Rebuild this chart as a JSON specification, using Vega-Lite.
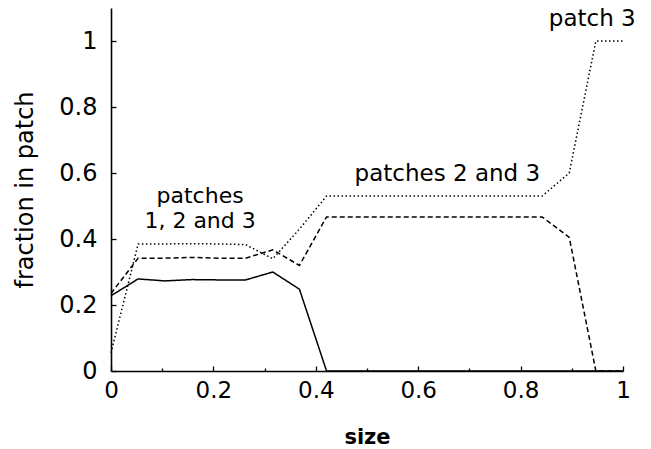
{
  "$schema": "https://vega.github.io/schema/vega-lite/v6.json",
  "width": 512,
  "height": 363,
  "autosize": "none",
  "padding": {"left": 111, "top": 8, "right": 28, "bottom": 78},
  "background": "white",
  "config": {
    "view": {"stroke": null},
    "font": "DejaVu Sans",
    "axis": {"grid": false, "domainColor": "black", "domainWidth": 1.6, "tickColor": "black", "tickWidth": 1.3, "labelColor": "black", "titleColor": "black", "labelFont": "DejaVu Sans", "titleFont": "DejaVu Sans", "labelFontSize": 23, "titleFontSize": 23}
  },
  "datasets": {
    "lines": [
      {"size": 0, "fraction": 0.228, "series": "patch 1"},
      {"size": 0.053, "fraction": 0.279, "series": "patch 1"},
      {"size": 0.105, "fraction": 0.273, "series": "patch 1"},
      {"size": 0.158, "fraction": 0.277, "series": "patch 1"},
      {"size": 0.211, "fraction": 0.276, "series": "patch 1"},
      {"size": 0.263, "fraction": 0.276, "series": "patch 1"},
      {"size": 0.316, "fraction": 0.3, "series": "patch 1"},
      {"size": 0.368, "fraction": 0.248, "series": "patch 1"},
      {"size": 0.421, "fraction": 0, "series": "patch 1"},
      {"size": 0.474, "fraction": 0, "series": "patch 1"},
      {"size": 0.526, "fraction": 0, "series": "patch 1"},
      {"size": 0.579, "fraction": 0, "series": "patch 1"},
      {"size": 0.632, "fraction": 0, "series": "patch 1"},
      {"size": 0.684, "fraction": 0, "series": "patch 1"},
      {"size": 0.737, "fraction": 0, "series": "patch 1"},
      {"size": 0.789, "fraction": 0, "series": "patch 1"},
      {"size": 0.842, "fraction": 0, "series": "patch 1"},
      {"size": 0.895, "fraction": 0, "series": "patch 1"},
      {"size": 0.947, "fraction": 0, "series": "patch 1"},
      {"size": 1, "fraction": 0, "series": "patch 1"},
      {"size": 0, "fraction": 0.235, "series": "patch 2"},
      {"size": 0.053, "fraction": 0.342, "series": "patch 2"},
      {"size": 0.105, "fraction": 0.342, "series": "patch 2"},
      {"size": 0.158, "fraction": 0.344, "series": "patch 2"},
      {"size": 0.211, "fraction": 0.342, "series": "patch 2"},
      {"size": 0.263, "fraction": 0.342, "series": "patch 2"},
      {"size": 0.316, "fraction": 0.367, "series": "patch 2"},
      {"size": 0.368, "fraction": 0.32, "series": "patch 2"},
      {"size": 0.421, "fraction": 0.467, "series": "patch 2"},
      {"size": 0.474, "fraction": 0.467, "series": "patch 2"},
      {"size": 0.526, "fraction": 0.467, "series": "patch 2"},
      {"size": 0.579, "fraction": 0.467, "series": "patch 2"},
      {"size": 0.632, "fraction": 0.467, "series": "patch 2"},
      {"size": 0.684, "fraction": 0.467, "series": "patch 2"},
      {"size": 0.737, "fraction": 0.467, "series": "patch 2"},
      {"size": 0.789, "fraction": 0.467, "series": "patch 2"},
      {"size": 0.842, "fraction": 0.467, "series": "patch 2"},
      {"size": 0.895, "fraction": 0.405, "series": "patch 2"},
      {"size": 0.947, "fraction": 0, "series": "patch 2"},
      {"size": 1, "fraction": 0, "series": "patch 2"},
      {"size": 0, "fraction": 0.055, "series": "patch 3"},
      {"size": 0.053, "fraction": 0.385, "series": "patch 3"},
      {"size": 0.105, "fraction": 0.385, "series": "patch 3"},
      {"size": 0.158, "fraction": 0.386, "series": "patch 3"},
      {"size": 0.211, "fraction": 0.385, "series": "patch 3"},
      {"size": 0.263, "fraction": 0.383, "series": "patch 3"},
      {"size": 0.316, "fraction": 0.34, "series": "patch 3"},
      {"size": 0.368, "fraction": 0.43, "series": "patch 3"},
      {"size": 0.421, "fraction": 0.53, "series": "patch 3"},
      {"size": 0.474, "fraction": 0.53, "series": "patch 3"},
      {"size": 0.526, "fraction": 0.53, "series": "patch 3"},
      {"size": 0.579, "fraction": 0.53, "series": "patch 3"},
      {"size": 0.632, "fraction": 0.53, "series": "patch 3"},
      {"size": 0.684, "fraction": 0.53, "series": "patch 3"},
      {"size": 0.737, "fraction": 0.53, "series": "patch 3"},
      {"size": 0.789, "fraction": 0.53, "series": "patch 3"},
      {"size": 0.842, "fraction": 0.53, "series": "patch 3"},
      {"size": 0.895, "fraction": 0.6, "series": "patch 3"},
      {"size": 0.947, "fraction": 1.0, "series": "patch 3"},
      {"size": 1, "fraction": 1.0, "series": "patch 3"}
    ],
    "labels": [
      {"size": 0.174, "fraction": 0.51, "text": "patches\n1, 2 and 3", "fs": 22},
      {"size": 0.657, "fraction": 0.576, "text": "patches 2 and 3", "fs": 23},
      {"size": 0.94, "fraction": 1.045, "text": "patch 3", "fs": 23}
    ]
  },
  "layer": [
    {
      "data": {"name": "lines"},
      "mark": {"type": "line", "color": "black", "strokeWidth": 1.5},
      "encoding": {
        "x": {
          "field": "size", "type": "quantitative",
          "scale": {"domain": [0, 1], "nice": false, "zero": false},
          "axis": {
            "title": "size",
            "titleFontWeight": "bold",
            "titleFontSize": 21,
            "titleX": 256, "titleY": 66, "titleBaseline": "middle", "titleAnchor": null,
            "values": [0, 0.05, 0.1, 0.15, 0.2, 0.25, 0.3, 0.35, 0.4, 0.45, 0.5, 0.55, 0.6, 0.65, 0.7, 0.75, 0.8, 0.85, 0.9, 0.95, 1],
            "labelExpr": "abs(datum.value*5-round(datum.value*5))<0.001 ? format(datum.value, '~g') : ''",
            "tickSize": {"condition": {"test": "abs(datum.value*5-round(datum.value*5))<0.001", "value": -5}, "value": -3},
            "labelPadding": 13,
            "labelBaseline": "top",
            "labelFlush": false,
            "labelOverlap": false
          }
        },
        "y": {
          "field": "fraction", "type": "quantitative",
          "scale": {"domain": [0, 1.1], "nice": false},
          "axis": {
            "title": "fraction in patch",
            "titleFontWeight": "normal",
            "titleFontSize": 24,
            "titleX": -86, "titleY": 181.5, "titleBaseline": "middle", "titleAngle": -90, "titleAnchor": null,
            "values": [0, 0.2, 0.4, 0.6, 0.8, 1],
            "labelExpr": "format(datum.value, '~g')",
            "labelFontSize": 24,
            "tickSize": -5,
            "labelPadding": 19,
            "labelFlush": false,
            "labelOverlap": false
          }
        },
        "strokeDash": {
          "field": "series", "type": "nominal",
          "scale": {"domain": ["patch 1", "patch 2", "patch 3"], "range": [[1, 0], [5, 3], [1.5, 2.5]]},
          "legend": null
        },
        "detail": {"field": "series"}
      }
    },
    {
      "data": {"name": "labels"},
      "mark": {"type": "text", "font": "DejaVu Sans", "color": "black", "align": "center", "baseline": "alphabetic", "lineBreak": "\n", "lineHeight": 25},
      "encoding": {
        "x": {"field": "size", "type": "quantitative"},
        "y": {"field": "fraction", "type": "quantitative"},
        "text": {"field": "text"},
        "size": {"field": "fs", "type": "quantitative", "scale": null}
      }
    }
  ]
}
